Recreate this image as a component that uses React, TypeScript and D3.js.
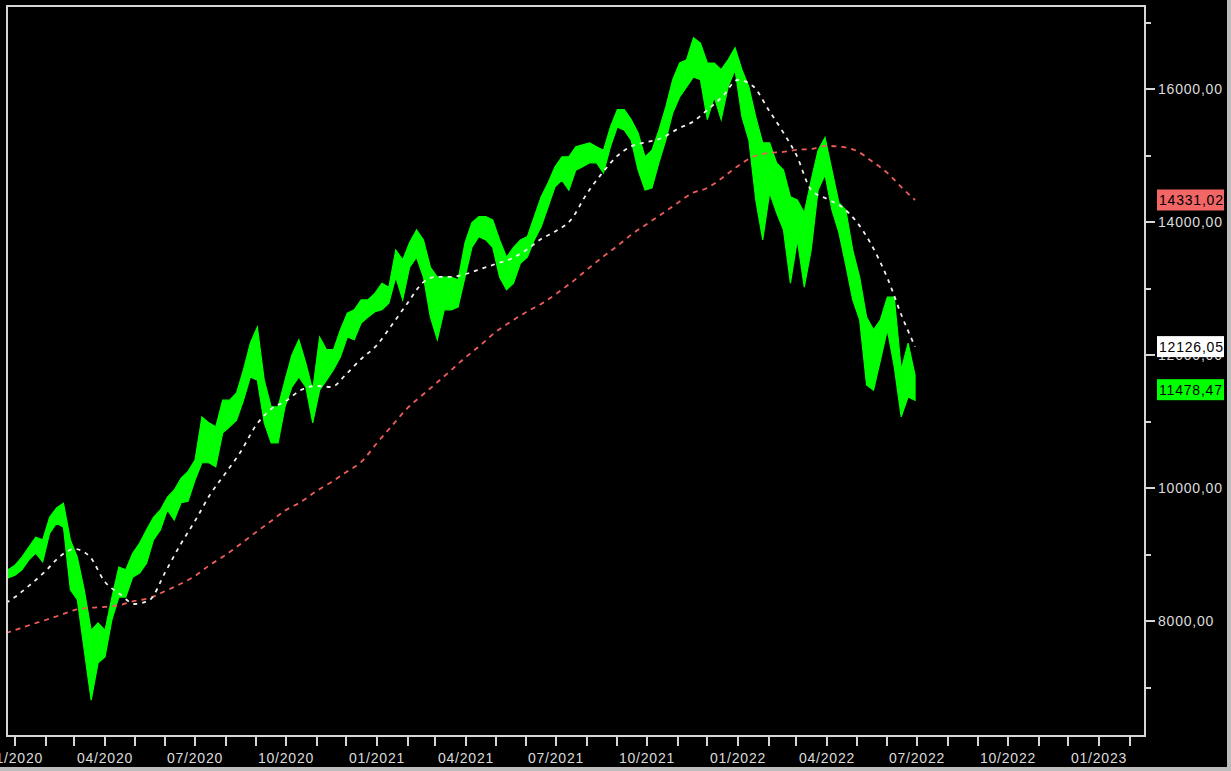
import React from "react";
import * as d3 from "d3";

// Weekly price ranges (week start date, high, low)
const weekStarts = [
  "2019-12-23","2019-12-30","2020-01-06","2020-01-13","2020-01-20","2020-01-27","2020-02-03","2020-02-10","2020-02-17","2020-02-24",
  "2020-03-02","2020-03-09","2020-03-16","2020-03-23","2020-03-30","2020-04-06","2020-04-13","2020-04-20","2020-04-27","2020-05-04",
  "2020-05-11","2020-05-18","2020-05-25","2020-06-01","2020-06-08","2020-06-15","2020-06-22","2020-06-29","2020-07-06","2020-07-13",
  "2020-07-20","2020-07-27","2020-08-03","2020-08-10","2020-08-17","2020-08-24","2020-08-31","2020-09-07","2020-09-14","2020-09-21",
  "2020-09-28","2020-10-05","2020-10-12","2020-10-19","2020-10-26","2020-11-02","2020-11-09","2020-11-16","2020-11-23","2020-11-30",
  "2020-12-07","2020-12-14","2020-12-21","2020-12-28","2021-01-04","2021-01-11","2021-01-18","2021-01-25","2021-02-01","2021-02-08",
  "2021-02-15","2021-02-22","2021-03-01","2021-03-08","2021-03-15","2021-03-22","2021-03-29","2021-04-05","2021-04-12","2021-04-19",
  "2021-04-26","2021-05-03","2021-05-10","2021-05-17","2021-05-24","2021-05-31","2021-06-07","2021-06-14","2021-06-21","2021-06-28",
  "2021-07-05","2021-07-12","2021-07-19","2021-07-26","2021-08-02","2021-08-09","2021-08-16","2021-08-23","2021-08-30","2021-09-06",
  "2021-09-13","2021-09-20","2021-09-27","2021-10-04","2021-10-11","2021-10-18","2021-10-25","2021-11-01","2021-11-08","2021-11-15",
  "2021-11-22","2021-11-29","2021-12-06","2021-12-13","2021-12-20","2021-12-27","2022-01-03","2022-01-10","2022-01-17","2022-01-24",
  "2022-01-31","2022-02-07","2022-02-14","2022-02-21","2022-02-28","2022-03-07","2022-03-14","2022-03-21","2022-03-28","2022-04-04",
  "2022-04-11","2022-04-18","2022-04-25","2022-05-02","2022-05-09","2022-05-16","2022-05-23","2022-05-30","2022-06-06","2022-06-13",
  "2022-06-20","2022-06-27"
];
const weekHighs = [
  8770,8840,8960,9110,9260,9220,9560,9700,9770,9220,
  8960,8470,7860,7970,7860,8360,8810,8770,9020,9170,
  9370,9560,9670,9860,9970,10150,10250,10420,11070,10980,
  10920,11320,11320,11430,11780,12180,12420,11620,11220,11220,
  11620,12000,12230,11880,11470,12270,12080,12080,12380,12630,
  12680,12830,12830,12930,13080,13020,13580,13430,13690,13880,
  13730,13320,13170,13170,13170,13130,13690,13990,14080,14080,
  14030,13730,13470,13620,13730,13780,14080,14380,14590,14830,
  14980,14980,15130,15160,15190,15130,15080,15430,15690,15690,
  15540,15340,14980,15080,15380,15730,16140,16390,16440,16770,
  16690,16390,16390,16290,16440,16620,16290,16030,15580,15190,
  15190,14890,14780,14380,14330,14140,14630,15080,15270,14780,
  14290,14180,13580,13170,12570,12380,12530,12870,12870,11780,
  12180,11700
];
const weekLows = [
  8650,8690,8770,8920,9020,8890,9320,9470,9410,8470,
  8320,7560,6810,7370,7460,8020,8360,8360,8660,8720,
  8870,9220,9370,9670,9520,9780,9800,10120,10380,10380,
  10320,10830,10920,11020,11320,11670,11620,10980,10680,10680,
  11220,11520,11670,11520,10980,11470,11620,11780,11970,12270,
  12230,12480,12570,12650,12680,12780,13170,12830,13320,13470,
  13170,12570,12230,12680,12680,12720,13170,13620,13780,13730,
  13620,13170,12980,13080,13380,13470,13730,13930,14230,14530,
  14630,14480,14780,14830,14890,14890,14740,15130,15430,15380,
  15230,14780,14480,14510,14890,15230,15640,15880,16030,16180,
  16140,15540,15880,15540,16030,16290,15580,15230,14330,13730,
  14440,14140,13880,13080,13730,13020,13580,14480,14710,14180,
  13840,13350,12830,12530,11550,11470,11920,12380,11820,11070,
  11370,11320
];

// Moving averages read at semi-monthly dates
const maDates = [
  "2019-12-23","2020-01-01","2020-01-16","2020-02-01","2020-02-16","2020-03-01","2020-03-16","2020-04-01","2020-04-16","2020-05-01",
  "2020-05-16","2020-06-01","2020-06-16","2020-07-01","2020-07-16","2020-08-01","2020-08-16","2020-09-01","2020-09-16","2020-10-01",
  "2020-10-16","2020-11-01","2020-11-16","2020-12-01","2020-12-16","2021-01-01","2021-01-16","2021-02-01","2021-02-16","2021-03-01",
  "2021-03-16","2021-04-01","2021-04-16","2021-05-01","2021-05-16","2021-06-01","2021-06-16","2021-07-01","2021-07-16","2021-08-01",
  "2021-08-16","2021-09-01","2021-09-16","2021-10-01","2021-10-16","2021-11-01","2021-11-16","2021-12-01","2021-12-16","2022-01-01",
  "2022-01-16","2022-02-01","2022-02-16","2022-03-01","2022-03-16","2022-04-01","2022-04-16","2022-05-01","2022-05-16","2022-06-01",
  "2022-06-16","2022-06-29"
];
const maShort = [
  8271,8361,8541,8752,8978,9083,8978,8587,8406,8256,
  8316,8737,9143,9504,9895,10226,10542,10948,11188,11309,
  11474,11534,11519,11715,11940,12151,12452,12783,13084,13174,
  13174,13219,13294,13369,13444,13580,13745,13866,14031,14422,
  14723,14994,15144,15204,15264,15400,15505,15685,15881,16137,
  16046,15685,15340,15009,14482,14347,14227,14001,13655,13159,
  12572,12126.05
];
const maLong = [
  7820,7865,7940,8015,8090,8165,8196,8211,8241,8301,
  8346,8451,8556,8677,8842,8993,9158,9339,9504,9669,
  9790,9955,10091,10241,10391,10677,10933,11204,11399,11564,
  11760,11971,12151,12347,12497,12647,12768,12918,13084,13279,
  13460,13640,13820,13971,14121,14287,14437,14512,14663,14843,
  14979,15039,15054,15084,15099,15144,15129,15069,14918,14738,
  14512,14331.02
];
const lastClose = 11478.47;

const yMajorTicks = [8000, 10000, 12000, 14000, 16000];
const yMinorTicks = [7000, 9000, 11000, 13000, 15000, 17000];
const monthTicks = d3.utcMonths(new Date(Date.UTC(2020, 0, 1)), new Date(Date.UTC(2023, 1, 2)));

const W = 1231, H = 771;
const L = 7, R = 1145, T = 6, B = 736;
const parse = d3.utcParse("%Y-%m-%d");
const DAY = 86400000;

const x = d3.scaleUtc()
  .domain([new Date(Date.UTC(2020, 0, 1)), new Date(Date.UTC(2023, 0, 1))])
  .range([15, 1099]);
const y = d3.scaleLinear().domain([8000, 16000]).range([621, 89]);

const fmt = (v: number) => v.toFixed(2).replace(".", ",");
const FONT = "'Liberation Sans', Arial, sans-serif";

export default function App() {
  const bars = weekStarts.map((d, i) => ({
    t: new Date(parse(d)!.getTime() + 2 * DAY),
    h: weekHighs[i],
    l: weekLows[i],
  }));
  const area = d3.area<any>()
    .x((d) => x(d.t))
    .y0((d) => y(d.l))
    .y1((d) => y(d.h))
    .curve(d3.curveLinear);
  const maPts = maDates.map((d, i) => ({ t: parse(d)!, s: maShort[i], l: maLong[i] }));
  const lineS = d3.line<any>().x((d) => x(d.t)).y((d) => y(d.s)).curve(d3.curveMonotoneX);
  const lineL = d3.line<any>().x((d) => x(d.t)).y((d) => y(d.l)).curve(d3.curveMonotoneX);

  const axisColor = "#d6d6d6";
  const textColor = "#dcdcdc";

  const boxes = [
    { v: maLong[maLong.length - 1], fill: "#f26666" },
    { v: maShort[maShort.length - 1], fill: "#ffffff" },
    { v: lastClose, fill: "#00ff00" },
  ];

  return (
    <div style={{ position: "fixed", left: 0, top: 0, width: W, height: H, background: "#000" }}>
      <svg width={W} height={H} style={{ display: "block" }} fontFamily={FONT}>
        <rect x={0} y={0} width={W} height={H} fill="#000" />
        <defs>
          <clipPath id="plot">
            <rect x={L} y={T} width={R - L} height={B - T} />
          </clipPath>
        </defs>
        <g clipPath="url(#plot)">
          <path d={area(bars) || ""} fill="#00ff00" stroke="#00ff00" strokeWidth={1.2} strokeLinejoin="miter" />
          <path d={lineL(maPts) || ""} fill="none" stroke="#ee5c5c" strokeWidth={1.8} strokeDasharray="5,5" />
          <path d={lineS(maPts) || ""} fill="none" stroke="#f0f0f0" strokeWidth={1.8} strokeDasharray="4,5" />
        </g>
        {/* frame */}
        <path d={`M${L},${T}H${R}V${B}H${L}Z`} fill="none" stroke={axisColor} strokeWidth={2} />
        {/* y ticks */}
        {yMajorTicks.map((v) => (
          <g key={"M" + v}>
            <line x1={R} x2={R + 10} y1={Math.round(y(v))} y2={Math.round(y(v))} stroke={axisColor} strokeWidth={2} />
            <text x={1158} y={y(v) + 5} fill={textColor} fontSize={14} letterSpacing={0.8}>{fmt(v)}</text>
          </g>
        ))}
        {yMinorTicks.map((v) => (
          <line key={"m" + v} x1={R} x2={R + 6} y1={Math.round(y(v))} y2={Math.round(y(v))} stroke={axisColor} strokeWidth={2} />
        ))}
        {/* x ticks */}
        {monthTicks.map((d, i) => {
          const xx = Math.round(x(d));
          return (
            <g key={"x" + i}>
              <line x1={xx} x2={xx} y1={B} y2={B + 10} stroke={axisColor} strokeWidth={2} />
              {d.getUTCMonth() % 3 === 0 && (
                <text x={xx} y={763} textAnchor="middle" fill={textColor} fontSize={14} letterSpacing={0.8}>
                  {d3.utcFormat("%m/%Y")(d)}
                </text>
              )}
            </g>
          );
        })}
        {/* value boxes */}
        {boxes.map((b, i) => (
          <g key={"b" + i}>
            <rect x={1157} y={y(b.v) - 10.5} width={67} height={21} fill={b.fill} />
            <text x={1159} y={y(b.v) + 5} fill="#000" fontSize={14} letterSpacing={0.8}>{fmt(b.v)}</text>
          </g>
        ))}
        {/* window edges */}
        <rect x={1227} y={0} width={4} height={H} fill="#bdbdbd" />
        <rect x={0} y={767} width={W} height={4} fill="#bdbdbd" />
      </svg>
    </div>
  );
}
